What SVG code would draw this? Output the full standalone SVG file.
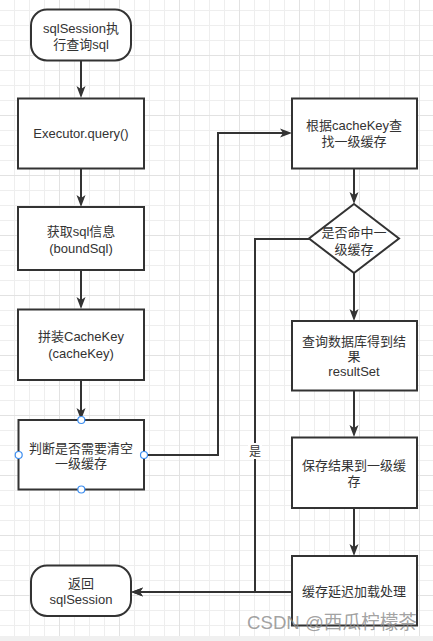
<svg xmlns="http://www.w3.org/2000/svg" width="433" height="641" viewBox="0 0 433 641">
<defs>
<pattern id="grid" x="-1" y="-5" width="60" height="60" patternUnits="userSpaceOnUse">
<rect x="0" y="0" width="60" height="60" fill="#ffffff"/>
<rect x="15" y="0" width="1" height="60" fill="#eeeeee"/>
<rect x="30" y="0" width="1" height="60" fill="#eeeeee"/>
<rect x="45" y="0" width="1" height="60" fill="#eeeeee"/>
<rect x="0" y="15" width="60" height="1" fill="#eeeeee"/>
<rect x="0" y="30" width="60" height="1" fill="#eeeeee"/>
<rect x="0" y="45" width="60" height="1" fill="#eeeeee"/>
<rect x="0" y="0" width="1" height="60" fill="#e2e2e2"/>
<rect x="0" y="0" width="60" height="1" fill="#e2e2e2"/>
</pattern>
<marker id="arr" markerUnits="userSpaceOnUse" markerWidth="12" markerHeight="10" viewBox="0 0 12 10" refX="8" refY="5" orient="auto">
<path d="M0,0.5 L12,5 L0,9.5 L3,5 Z" fill="#333333"/>
</marker>
</defs>
<style>
.node{fill:#ffffff;stroke:#333333;stroke-width:2}
.t{font-family:"Liberation Sans","Noto Sans CJK SC",sans-serif;font-size:13px;fill:#333333;text-anchor:middle}
.edge{fill:none;stroke:#333333;stroke-width:2}
.handle{fill:#ffffff;stroke:#3d8ef0;stroke-width:1.2}
</style>
<rect x="0" y="0" width="433" height="641" fill="url(#grid)"/>
<rect x="0" y="636" width="433" height="5" fill="#f0f0f0"/>

<g id="connectors">
<path class="edge" d="M81,61 V94" marker-end="url(#arr)"/>
<path class="edge" d="M81,168 V203" marker-end="url(#arr)"/>
<path class="edge" d="M81,270 V305" marker-end="url(#arr)"/>
<path class="edge" d="M81,380 V416" marker-end="url(#arr)"/>
<path class="edge" d="M144,455 H218 V133 H288" marker-end="url(#arr)"/>
<path class="edge" d="M354,168 V200" marker-end="url(#arr)"/>
<path class="edge" d="M309,239 H255 V592 H135" marker-end="url(#arr)"/>
<path class="edge" d="M354,273 V317" marker-end="url(#arr)"/>
<path class="edge" d="M354,391 V433" marker-end="url(#arr)"/>
<path class="edge" d="M354,508 V552" marker-end="url(#arr)"/>
<path class="edge" d="M292,592 H135" marker-end="url(#arr)"/>
<rect x="248" y="443" width="14" height="16" fill="#ffffff"/>
<text class="t" x="255" y="456" style="font-size:12px">是</text>
</g>

<g id="start">
<rect class="node" x="31" y="9.5" width="100" height="51" rx="16" ry="16"/>
<text class="t" x="81" y="33">sqlSession执</text>
<text class="t" x="81" y="49">行查询sql</text>
</g>

<g id="executor">
<rect class="node" x="18" y="98.5" width="126" height="70"/>
<text class="t" x="81" y="138">Executor.query()</text>
</g>

<g id="boundSql">
<rect class="node" x="18" y="207" width="126" height="63"/>
<text class="t" x="81" y="236">获取sql信息</text>
<text class="t" x="81" y="253">(boundSql)</text>
</g>

<g id="cacheKey">
<rect class="node" x="18" y="309.5" width="126" height="70.5"/>
<text class="t" x="81" y="341">拼装CacheKey</text>
<text class="t" x="81" y="358">(cacheKey)</text>
</g>

<g id="clearCache">
<rect class="node" x="18.5" y="420" width="125.5" height="69.5"/>
<text class="t" x="81" y="453">判断是否需要清空</text>
<text class="t" x="81" y="468">一级缓存</text>
<circle class="handle" cx="81.3" cy="420" r="3.5"/>
<circle class="handle" cx="18.7" cy="455" r="3.5"/>
<circle class="handle" cx="144" cy="455" r="3.5"/>
<circle class="handle" cx="81.3" cy="489.5" r="3.5"/>
</g>

<g id="return">
<rect class="node" x="31" y="565.5" width="100" height="50.5" rx="16" ry="16"/>
<text class="t" x="81" y="588">返回</text>
<text class="t" x="81" y="604">sqlSession</text>
</g>

<g id="findCache">
<rect class="node" x="292" y="98.5" width="125" height="70"/>
<text class="t" x="354" y="130">根据cacheKey查</text>
<text class="t" x="354" y="146">找一级缓存</text>
</g>

<g id="hitCache">
<polygon class="node" points="354,204 399,238.5 354,273 309,238.5"/>
<text class="t" x="354" y="237">是否命中一</text>
<text class="t" x="354" y="253.5">级缓存</text>
</g>

<g id="queryDb">
<rect class="node" x="292" y="321" width="125" height="69.5"/>
<text class="t" x="354" y="345.5">查询数据库得到结</text>
<text class="t" x="354" y="361">果</text>
<text class="t" x="354" y="376">resultSet</text>
</g>

<g id="saveCache">
<rect class="node" x="292" y="437.5" width="125" height="70.5"/>
<text class="t" x="354" y="470">保存结果到一级缓</text>
<text class="t" x="354" y="486">存</text>
</g>

<g id="lazyLoad">
<rect class="node" x="292" y="556" width="125" height="69.5"/>
<text class="t" x="354" y="596">缓存延迟加载处理</text>
</g>

<text x="247" y="629" font-family="'Liberation Sans','Noto Sans CJK SC',sans-serif" font-size="19" fill="#8a8a8a" fill-opacity="0.8" textLength="170" lengthAdjust="spacingAndGlyphs">CSDN @西瓜柠檬茶</text>
</svg>
